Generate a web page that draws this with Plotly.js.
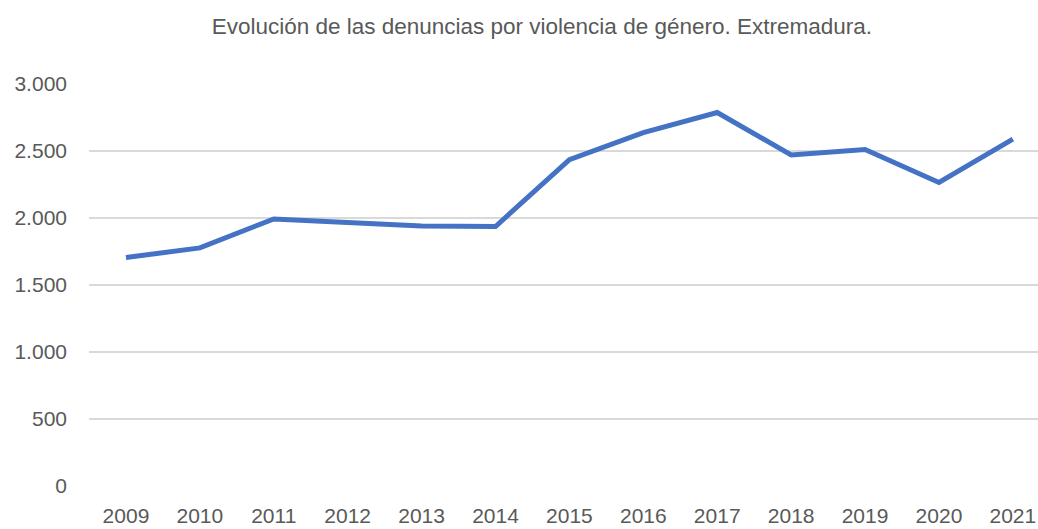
<!DOCTYPE html>
<html>
<head>
<meta charset="utf-8">
<script src="https://cdn.plot.ly/plotly-3.0.1.min.js"></script>
<style>html,body{margin:0;padding:0;background:#fff;}#chart{width:1038px;height:529px;}</style>
</head>
<body>
<div id="chart"></div>
<script>
const years = ["2009","2010","2011","2012","2013","2014","2015","2016","2017","2018","2019","2020","2021"];
const denuncias = [1705, 1777, 1993, 1969, 1941, 1936, 2436, 2637, 2787, 2471, 2511, 2265, 2588];
const yTicks = [0, 500, 1000, 1500, 2000, 2500, 3000];
const titleText = "Evolución de las denuncias por violencia de género. Extremadura.";

const font = "Liberation Sans, Arial, sans-serif";
Plotly.newPlot("chart", [{
  x: years,
  y: denuncias,
  type: "scatter",
  mode: "lines",
  line: {color: "#4472C4", width: 5, shape: "linear"},
  hoverinfo: "x+y"
}], {
  width: 1038, height: 529,
  separators: ",.",
  paper_bgcolor: "#fff", plot_bgcolor: "#fff",
  margin: {l: 89, r: 0, t: 84, b: 43},
  title: {text: titleText, font: {family: font, size: 22.5, color: "#595959"}, x: 0.522, xanchor: "center", y: 0.95, yanchor: "middle"},
  xaxis: {
    type: "category",
    range: [-0.5, 12.34],
    showgrid: false, zeroline: false, showline: false, ticks: "",
    tickfont: {family: font, size: 21, color: "#595959"},
    ticklabelstandoff: 15
  },
  yaxis: {
    range: [0, 3000],
    tickvals: yTicks,
    tickformat: ",d",
    showgrid: true, gridcolor: "#d9d9d9", gridwidth: 1.5,
    zeroline: false, showline: false, ticks: "",
    tickfont: {family: font, size: 21, color: "#595959"},
    ticklabelstandoff: 21
  },
  showlegend: false
}, {displayModeBar: false, staticPlot: true});
</script>
</body>
</html>
